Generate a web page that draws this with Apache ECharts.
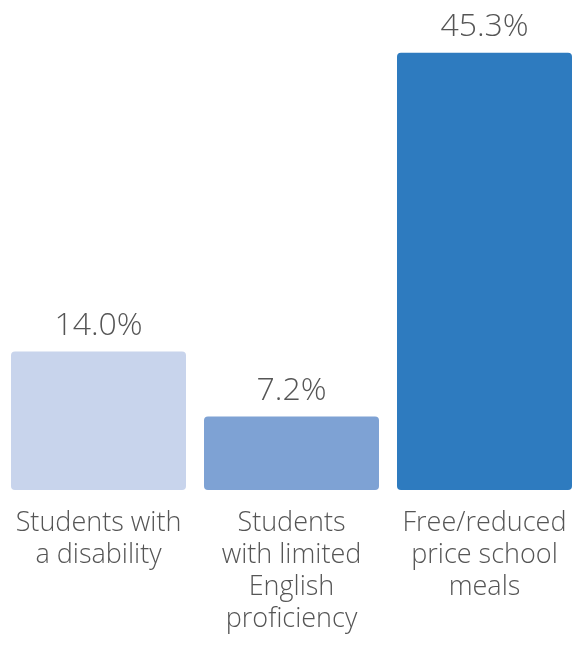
<!DOCTYPE html>
<html><head><meta charset="utf-8">
<script src="https://cdn.jsdelivr.net/npm/echarts@6/dist/echarts.min.js"></script>
<style>html,body{margin:0;padding:0;background:#fff}#c{width:581px;height:645px}</style>
</head><body><div id="c"></div>
<script>
const categories = ["Students with\na disability", "Students\nwith limited\nEnglish\nproficiency", "Free/reduced\nprice school\nmeals"];
const values = [14.0, 7.2, 45.3];
const barColors = ["#c8d4ec", "#7ea2d4", "#2e7bbf"];

const chart = echarts.init(document.getElementById('c'), null, {renderer: 'canvas'});
chart.setOption({
  animation: false,
  grid: {left: 2, right: 0, top: 7.8, bottom: 155},
  xAxis: {
    type: 'category', data: categories,
    axisLine: {show: false}, axisTick: {show: false},
    axisLabel: {interval: 0, margin: 17, fontFamily: 'Open Sans', fontWeight: 300, fontSize: 27, lineHeight: 32, color: '#555555'}
  },
  yAxis: {
    type: 'value', min: -0.5, max: 50, startValue: -0.5,
    show: false, splitLine: {show: false}
  },
  series: [{
    type: 'bar', barWidth: 175,
    data: values.map((v, i) => ({value: v, itemStyle: {color: barColors[i]}})),
    itemStyle: {borderRadius: 4},
    label: {show: true, position: 'top', distance: 10, fontFamily: 'Open Sans', fontWeight: 300, fontSize: 32, color: '#555555',
      formatter: p => p.value.toFixed(1) + '%'}
  }]
});
</script></body></html>
